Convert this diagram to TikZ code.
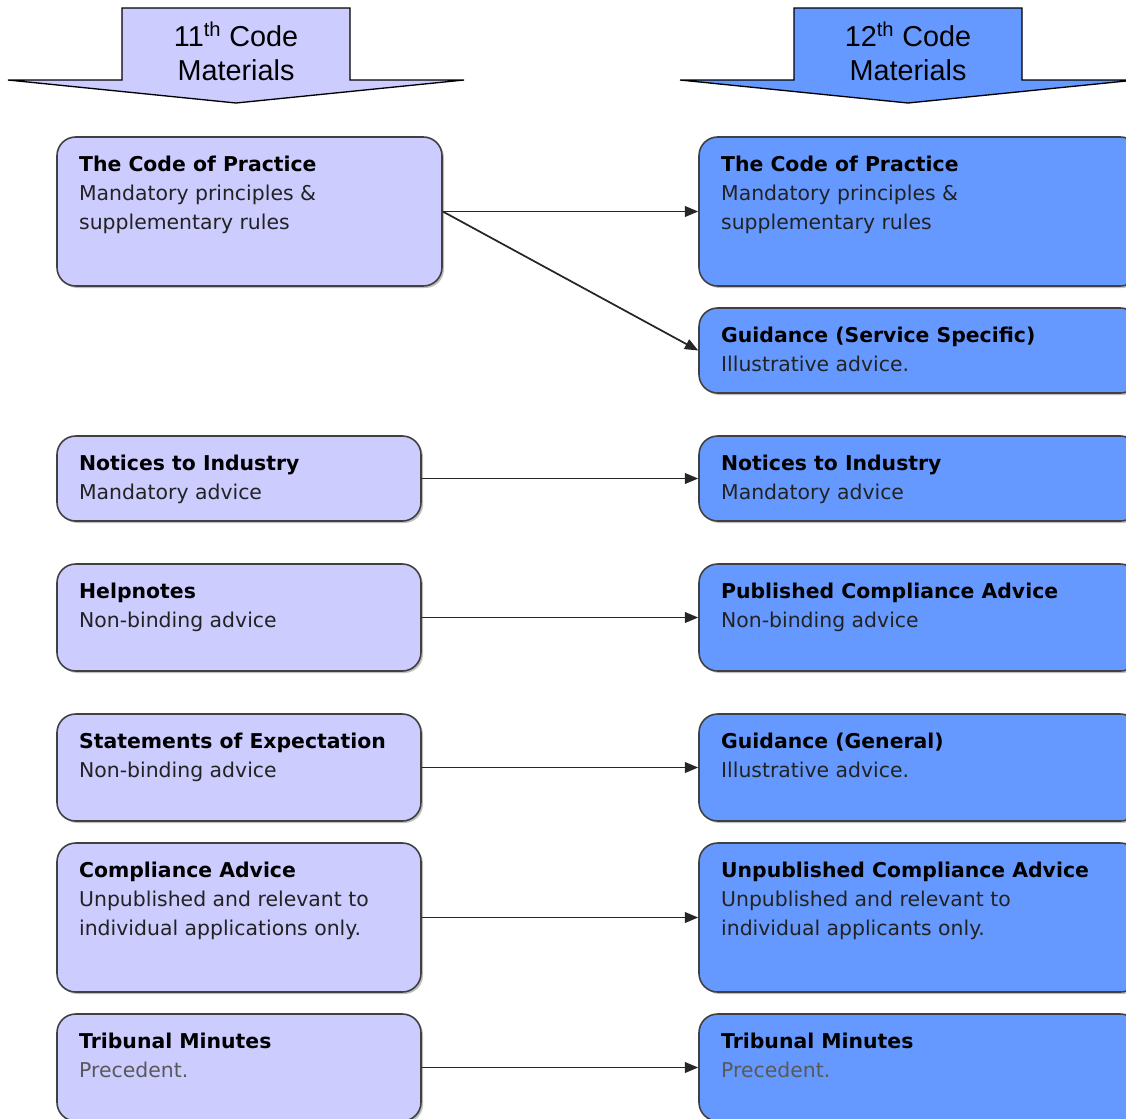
\documentclass[tikz,border=0pt]{standalone}
\usepackage{fontspec}
\setmainfont{DejaVu Sans}
\newfontfamily\headfont{Liberation Sans}
\usepackage{xcolor}
\usetikzlibrary{positioning,arrows.meta,shadows}

\definecolor{oldfill}{HTML}{CCCCFF}
\definecolor{newfill}{HTML}{6699FF}
\definecolor{boxline}{HTML}{404040}
\definecolor{desctext}{HTML}{222222}

\tikzset{
  basebox/.style={draw=boxline, line width=1.2pt, rounded corners=14pt,
    drop shadow={shadow xshift=1.5pt, shadow yshift=-1.5pt, fill=black, opacity=0.25}},
  oldbox/.style={basebox, fill=oldfill, minimum width=273pt},
  newbox/.style={basebox, fill=newfill, minimum width=330pt},
  hsmall/.style={minimum height=63.75pt},
  hmid/.style={minimum height=80.25pt},
  htall/.style={minimum height=111.75pt},
  boxtext/.style={anchor=north west, align=left, inner sep=0pt, xshift=17pt, yshift=-14.5pt,
    text=desctext, font=\fontsize{15.3}{21.75}\selectfont},
  headtext/.style={align=center, inner sep=0pt, font=\headfont\fontsize{21.6}{25.5}\selectfont},
  link/.style={draw=black!85, line width=1.3pt, -{Triangle[length=10pt,width=8pt]}}
}

\begin{document}
\begin{tikzpicture}[x=0.75pt,y=-0.75pt]
    \useasboundingbox (0,0) rectangle (1126,1118);
    \clip (0,0) rectangle (1126,1118);

    % Header arrows
    \filldraw[fill=oldfill, draw=black, line width=1pt] (122,8) -- (350,8) -- (350,80) -- (464,80)
        -- (236,103) -- (8,80) -- (122,80) -- cycle;
    \node[headtext] (oldhead) at (236,51) {11\textsuperscript{th} Code\\Materials};
    \filldraw[fill=newfill, draw=black, line width=1pt] (794,8) -- (1022,8) -- (1022,80) -- (1136,80)
        -- (908,103) -- (680,80) -- (794,80) -- cycle;
    \node[headtext] (newhead) at (908,51) {12\textsuperscript{th} Code\\Materials};

    % 11th code boxes
    \node[oldbox, htall, minimum width=288.75pt, label={[boxtext]north west:{\textcolor{black}{\bfseries The Code of Practice}\\Mandatory principles \&\\supplementary rules}}] (oldcop) at (249.5,211.5) {};
    \node[oldbox, hsmall, label={[boxtext]north west:{\textcolor{black}{\bfseries Notices to Industry}\\Mandatory advice}}] (oldnot) at (239,478.5) {};
    \node[oldbox, hmid, label={[boxtext]north west:{\textcolor{black}{\bfseries Helpnotes}\\Non-binding advice}}] (oldhelp) at (239,617.5) {};
    \node[oldbox, hmid, label={[boxtext]north west:{\textcolor{black}{\bfseries Statements of Expectation}\\Non-binding advice}}] (oldsoe) at (239,767.5) {};
    \node[oldbox, htall, label={[boxtext]north west:{\textcolor{black}{\bfseries Compliance Advice}\\Unpublished and relevant to\\individual applications only.}}] (oldca) at (239,917.5) {};
    \node[oldbox, hmid, label={[boxtext]north west:{\textcolor{black}{\bfseries Tribunal Minutes}\\\textcolor{black!65}{Precedent.}}}] (oldtrib) at (239,1067.5) {};

    % 12th code boxes
    \node[newbox, htall, label={[boxtext]north west:{\textcolor{black}{\bfseries The Code of Practice}\\Mandatory principles \&\\supplementary rules}}] (newcop) at (919,211.5) {};
    \node[newbox, hsmall, label={[boxtext]north west:{\textcolor{black}{\bfseries Guidance (Service Specific)}\\Illustrative advice.}}] (newgss) at (919,350.5) {};
    \node[newbox, hsmall, label={[boxtext]north west:{\textcolor{black}{\bfseries Notices to Industry}\\Mandatory advice}}] (newnot) at (919,478.5) {};
    \node[newbox, hmid, label={[boxtext]north west:{\textcolor{black}{\bfseries Published Compliance Advice}\\Non-binding advice}}] (newpca) at (919,617.5) {};
    \node[newbox, hmid, label={[boxtext]north west:{\textcolor{black}{\bfseries Guidance (General)}\\Illustrative advice.}}] (newgg) at (919,767.5) {};
    \node[newbox, htall, label={[boxtext]north west:{\textcolor{black}{\bfseries Unpublished Compliance Advice}\\Unpublished and relevant to\\individual applicants only.}}] (newuca) at (919,917.5) {};
    \node[newbox, hmid, label={[boxtext]north west:{\textcolor{black}{\bfseries Tribunal Minutes}\\\textcolor{black!65}{Precedent.}}}] (newtrib) at (919,1067.5) {};

    % Links
    \draw[link] (oldcop.east) -- (newcop.west);
    \draw[link] (oldcop.east) -- (newgss.west);
    \draw[link] (oldnot) -- (newnot);
    \draw[link] (oldhelp) -- (newpca);
    \draw[link] (oldsoe) -- (newgg);
    \draw[link] (oldca) -- (newuca);
    \draw[link] (oldtrib) -- (newtrib);
\end{tikzpicture}
\end{document}
